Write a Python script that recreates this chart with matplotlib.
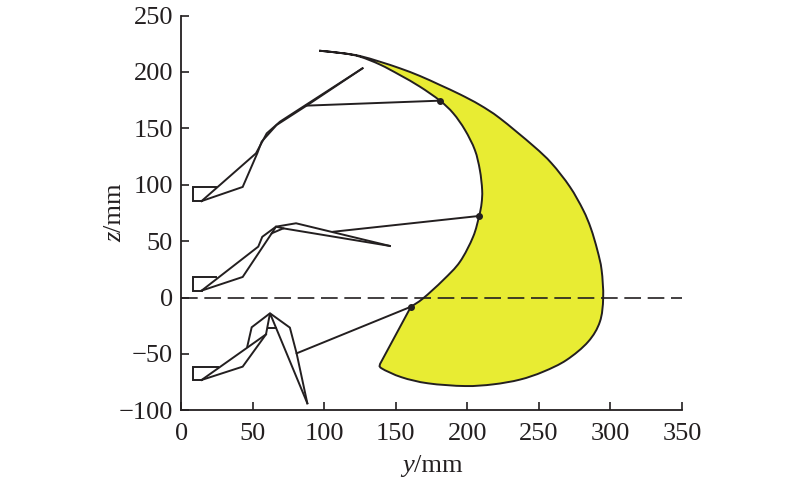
# -*- coding: utf-8 -*-
import matplotlib
matplotlib.use("Agg")
import matplotlib.pyplot as plt
from matplotlib.patches import PathPatch
from matplotlib.path import Path

plt.rcParams['font.family'] = ['Liberation Serif', 'DejaVu Serif']

INK = '#231f20'
YELLOW = '#e8ec33'

# yellow region, outer edge from the tip down to the lower corner
outer_y = [96.4, 113.2, 124.9, 138.9, 152.8, 166.8, 180.8, 194.8, 208.7, 222.7, 246, 258.8, 271.6,
           280.9, 286.3, 290.8, 293.8, 294.9, 292.6, 284.4, 269.3, 253, 236.7, 218,
           198.3, 172.6, 154, 140, 138.9]
outer_z = [218.8, 216.5, 214.1, 209, 203.2, 196.4, 188.4, 180.1, 170.7, 158.9, 134.5, 119, 98.2,
           77.6, 61.3, 42.1, 24.4, -0.2, -21.5, -39.2, -55.4, -65.8, -72.8, -77,
           -78.5, -76.1, -70.7, -62.8, -59]
# inner edge, from the straight side back up to the tip
inner_y = [160.5, 169.1, 183.1, 194.8, 204, 208.2, 209.9, 210.3, 208.7, 205.2, 198.3, 190.1, 180.8,
           166.8, 152.8, 138.9, 124.9, 113.2, 96.4]
inner_z = [-8.2, -0.7, 15.5, 31.7, 53.9, 72.3, 83.5, 95.3, 113, 130.8, 148.5, 163.3, 174.5,
           186.9, 197.2, 206.5, 213.5, 216.5, 218.8]

# attachment points on the inner edge
dots_y = [180.8, 208.2, 160.5]
dots_z = [174.5, 72.3, -8.2]

# top section
top_rect_y = [24.2, 7.9, 7.9, 14.2]
top_rect_z = [98.3, 98.3, 85.5, 85.5]
top_upper_y = [14.2, 52.2, 59.7, 69, 126.7]
top_upper_z = [85.5, 127.8, 145.5, 155.9, 203.2]
top_lower_y = [14.2, 42.9, 53.1, 56.2, 66.6, 87.6, 126.7]
top_lower_z = [85.5, 98, 127.8, 138.2, 152.9, 170.1, 203.2]
top_link_y = [87.6, 180.8]
top_link_z = [170.1, 174.5]

# middle section
mid_rect_y = [24.2, 7.9, 7.9, 14.2]
mid_rect_z = [18.5, 18.5, 6.1, 6.1]
mid_upper_y = [14.2, 53.8, 56.6, 66.2, 80.2, 145.8]
mid_upper_z = [6.1, 45.1, 53.8, 62.8, 65.8, 45.7]
mid_lower_y = [14.2, 42.9, 63.2, 71.3, 145.8]
mid_lower_z = [6.1, 18.2, 56.9, 61.3, 45.7]
mid_inner_y = [63.2, 66.2, 71.3]
mid_inner_z = [56.9, 62.8, 61.3]
mid_link_y = [106.3, 208.2]
mid_link_z = [58.3, 72.3]

# bottom section
low_rect_y = [25.9, 7.9, 7.9, 14.2]
low_rect_z = [-61.3, -61.3, -73.1, -73.1]
low_upper_y = [14.2, 59.2, 62, 88.1]
low_upper_z = [-73.1, -32.7, -14, -93.8]
low_lower_y = [14.2, 42.9, 59.2]
low_lower_z = [-73.1, -61.3, -32.7]
low_back_y = [46.1, 49.2, 62, 75.9, 80.6, 88.1]
low_back_z = [-43.6, -26.4, -14, -26.7, -49.5, -93.8]
low_bar_y = [60.4, 66.2]
low_bar_z = [-26.7, -26.7]
low_link_y = [80.6, 160.5]
low_link_z = [-49.5, -8.2]

x_ticks = [0, 50, 100, 150, 200, 250, 300, 350]
y_ticks = [-100, -50, 0, 50, 100, 150, 200, 250]


def smooth_segments(ys, zs):
    # bezier handles through the read points, so the edge has no kinks
    verts = []
    n = len(ys)
    for i in range(n - 1):
        a = max(i - 1, 0)
        d = min(i + 2, n - 1)
        verts.append((ys[i] + (ys[i + 1] - ys[a]) / 6, zs[i] + (zs[i + 1] - zs[a]) / 6))
        verts.append((ys[i + 1] - (ys[d] - ys[i]) / 6, zs[i + 1] - (zs[d] - zs[i]) / 6))
        verts.append((ys[i + 1], zs[i + 1]))
    return verts


fig = plt.figure(figsize=(8, 4.82), dpi=100)
ax = fig.add_axes([181.3 / 800, (482 - 410.3) / 482, 500.7 / 800, 394.8 / 482])

verts = [(outer_y[0], outer_z[0])] + smooth_segments(outer_y, outer_z)
codes = [Path.MOVETO] + [Path.CURVE4] * (3 * (len(outer_y) - 1))
verts.append((inner_y[0], inner_z[0]))
codes.append(Path.LINETO)
verts += smooth_segments(inner_y, inner_z)
codes += [Path.CURVE4] * (3 * (len(inner_y) - 1))
blade = PathPatch(Path(verts, codes), facecolor=YELLOW, edgecolor=INK, linewidth=1.4, zorder=2)
ax.add_patch(blade)

ax.plot([0, 350], [0, 0], color=INK, linewidth=1.2, dashes=(10, 4.0), zorder=3)

for yy, zz in [(top_rect_y, top_rect_z), (top_upper_y, top_upper_z), (top_lower_y, top_lower_z),
               (top_link_y, top_link_z),
               (mid_rect_y, mid_rect_z), (mid_upper_y, mid_upper_z), (mid_lower_y, mid_lower_z),
               (mid_inner_y, mid_inner_z), (mid_link_y, mid_link_z),
               (low_rect_y, low_rect_z), (low_upper_y, low_upper_z), (low_lower_y, low_lower_z),
               (low_back_y, low_back_z), (low_bar_y, low_bar_z), (low_link_y, low_link_z)]:
    ax.plot(yy, zz, color=INK, linewidth=1.4, solid_joinstyle='miter', zorder=4)

ax.plot(dots_y, dots_z, 'o', color=INK, markersize=4, zorder=5)

ax.set_xlim(0, 350)
ax.set_ylim(-100, 250)
ax.set_xticks(x_ticks)
ax.set_yticks(y_ticks)
ax.spines['top'].set_visible(False)
ax.spines['right'].set_visible(False)
ax.spines['left'].set_linewidth(1.3)
ax.spines['bottom'].set_linewidth(1.3)
ax.spines['left'].set_color(INK)
ax.spines['bottom'].set_color(INK)
ax.tick_params(direction='in', length=6, width=1.2, color=INK, labelcolor=INK, labelsize=19)
ax.tick_params(axis='x', pad=9)
ax.tick_params(axis='y', pad=6)

# italic variable plus upright unit, placed as separate texts
fig.text(414 / 800, 1 - 466 / 482, 'y', style='italic', fontsize=19, color=INK, ha='right', va='center')
fig.text(414 / 800, 1 - 466 / 482, '/mm', fontsize=19, color=INK, ha='left', va='center')
fig.text(115 / 800, 1 - 232 / 482, 'z', style='italic', fontsize=19, color=INK, rotation=90, ha='center', va='top')
fig.text(115 / 800, 1 - 232 / 482, '/mm', fontsize=19, color=INK, rotation=90, ha='center', va='bottom')

fig.savefig('out.png', dpi=100)
